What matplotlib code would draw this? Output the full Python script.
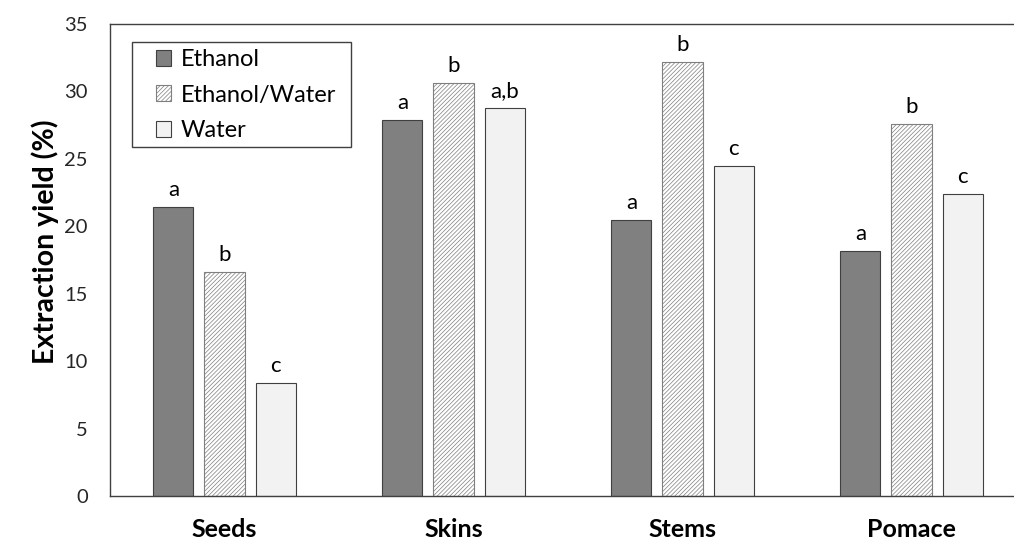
import matplotlib.pyplot as plt
from matplotlib.patches import Rectangle
import numpy as np

plt.rcParams['font.family'] = ['Lato', 'DejaVu Sans']
plt.rcParams['hatch.color'] = '#7f7f7f'
plt.rcParams['hatch.linewidth'] = 0.5

categories = ['Seeds', 'Skins', 'Stems', 'Pomace']
ethanol = [21.4, 27.9, 20.5, 18.2]
ethanol_water = [16.6, 30.6, 32.2, 27.6]
water = [8.4, 28.8, 24.5, 22.4]
letters_ethanol = ['a', 'a', 'a', 'a']
letters_ethanol_water = ['b', 'b', 'b', 'b']
letters_water = ['c', 'a,b', 'c', 'c']

x = np.arange(len(categories))
w = 0.175
step = 0.223

W, H = 1014, 542
fig = plt.figure(figsize=(W / 100, H / 100), dpi=100)
# axes run past the right edge, like the cropped original
ax = fig.add_axes([110 / W, 1 - 496 / H, 916 / W, 472 / H])

b1 = ax.bar(x - step, ethanol, w, color='#808080', edgecolor='#404040',
            linewidth=0.8, label='Ethanol')
b2 = ax.bar(x, ethanol_water, w, color='white', edgecolor='#7f7f7f',
            hatch='////////', linewidth=0.8, label='Ethanol/Water')
b3 = ax.bar(x + step, water, w, color='#f2f2f2', edgecolor='#404040',
            linewidth=0.8, label='Water')

for bars, labs in [(b1, letters_ethanol), (b2, letters_ethanol_water), (b3, letters_water)]:
    for bar, lab in zip(bars, labs):
        ax.annotate(lab, (bar.get_x() + bar.get_width() / 2, bar.get_height()),
                    xytext=(0, 5), textcoords='offset points',
                    ha='center', va='bottom', fontsize=16)

ax.set_xlim(-0.5, 3.5)
ax.set_ylim(0, 35)
ax.set_yticks(np.arange(0, 36, 5))
ax.set_xticks(x)
ax.set_xticklabels(categories, fontsize=18, fontweight='bold')
ax.tick_params(axis='x', length=0, pad=16)
ax.tick_params(axis='y', length=0, labelsize=14.5, pad=16, labelcolor='#262626')
ax.set_ylabel('Extraction yield (%)', fontsize=20.5, fontweight='bold')
ax.yaxis.set_label_coords(-0.056, 0.538)

for s in ['left', 'bottom', 'top']:
    ax.spines[s].set_color('#404040')
    ax.spines[s].set_linewidth(1.0)
ax.spines['right'].set_visible(False)

# legend without frame, the box is drawn by hand with wider side padding
leg = fig.legend(handles=[b1, b2, b3], loc='upper left',
                 bbox_to_anchor=(156 / W, 1 - 49 / H),
                 fontsize=17, frameon=False,
                 handlelength=0.65, handleheight=0.65, handletextpad=0.4,
                 labelspacing=0.62, borderpad=0, borderaxespad=0)
fig.canvas.draw()
bb = leg.get_window_extent()
fig.patches.append(Rectangle((bb.x0 - 24, bb.y0 - 6), bb.width + 24 + 15, bb.height + 13,
                             transform=None, fill=False, edgecolor='#404040',
                             linewidth=1.0, zorder=5))

fig.savefig('out.png', dpi=100)
